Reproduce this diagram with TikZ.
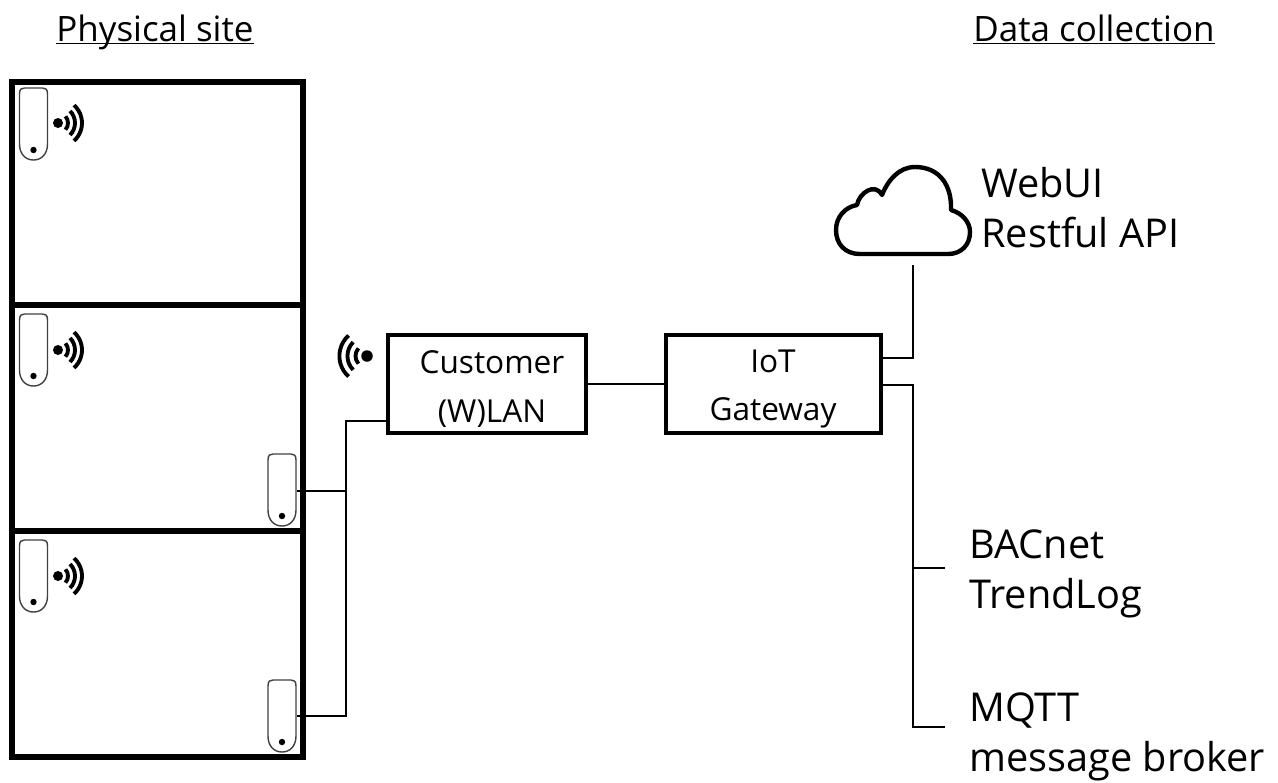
\documentclass[tikz,border=0pt]{standalone}
\usepackage{fontspec}
\setmainfont{Open Sans}
\usetikzlibrary{arrows.meta}
\tikzset{
    pics/sensor/.style={code={
        \node[minimum width=30*0.02cm,minimum height=72*0.02cm,inner sep=0pt] (-body) at (0,0) {};
        \draw[line width=0.8pt,draw=black!75] (-14,-30) .. controls (-14,-35) and (-12,-36) .. (-9,-36) -- (9,-36)
            .. controls (12,-36) and (14,-35) .. (14,-30) -- (14,20)
            .. controls (14,30) and (8,36) .. (0,36)
            .. controls (-8,36) and (-14,30) .. (-14,20) -- cycle;
        \fill (0,26) circle (3.2);
    }},
    pics/waves/.style={code={
        \fill (0,0) circle (5);
        \foreach \r/\a in {10/42,17/45,24/48}
            \draw[line width=2.2pt] (\a:\r) arc[start angle=\a,end angle=-\a,radius=\r];
    }}
}
\begin{document}
\begin{tikzpicture}[x=0.02cm,y=-0.02cm]
\useasboundingbox (0,0) rectangle (1278,782);
\begin{scope}[every node/.style={draw,line width=3pt,minimum width=291*0.02cm,inner sep=0pt}]
    \node[minimum height=223*0.02cm] (room1) at (157.5,193.5) {};
    \node[minimum height=226*0.02cm] (room2) at (157.5,418) {};
    \node[minimum height=226*0.02cm] (room3) at (157.5,644) {};
\end{scope}
\pic (s1) at (33.5,124) {sensor};
\pic (s2) at (33.5,350) {sensor};
\pic (s3) at (33.5,576) {sensor};
\pic (s4) at (282,490) {sensor};
\pic (s5) at (282,716) {sensor};
\pic (w1) at (58,123) {waves};
\pic (w2) at (58,350) {waves};
\pic (w3) at (58,576) {waves};
\pic[xscale=-1.15,yscale=1.15] (w4) at (367,356) {waves};
\begin{scope}[every node/.style={draw,line width=2pt,inner sep=0pt}]
    \node[minimum width=198*0.02cm,minimum height=98*0.02cm] (wlan) at (487,384) {};
    \node[minimum width=215*0.02cm,minimum height=98*0.02cm] (gateway) at (773.5,384) {};
\end{scope}
\begin{scope}[every node/.style={align=center,inner sep=0pt,font=\fontsize{18}{27.5}\selectfont}]
    \node (wlantext) at (492,389) {Customer\\(W)LAN};
    \node (gatewaytext) at (773,389) {IoT\\Gateway};
\end{scope}
\begin{scope}[every node/.style={align=left,anchor=west,inner sep=0pt,font=\fontsize{22.6}{28.4}\selectfont}]
    \node (api) at (981,208) {WebUI\\Restful API};
    \node (bacnet) at (969,574) {BACnet\\TrendLog};
    \node (mqtt) at (969,737) {MQTT\\message broker};
\end{scope}
\node[anchor=base,font=\fontsize{19.9}{24}\selectfont,inner sep=0pt] (site) at (155,41) {\underline{\smash{Physical site}}};
\node[anchor=base,font=\fontsize{19.9}{24}\selectfont,inner sep=0pt] (collect) at (1094,41) {\underline{\smash{Data collection}}};
\draw[line width=2.5pt,line join=round] (860,254) .. controls (845,254) and (836,244) .. (836,230)
    .. controls (836,217) and (845,207) .. (857,205)
    .. controls (859,193) and (875,182) .. (882,195)
    .. controls (888,180) and (899,167) .. (915,167)
    .. controls (940,167) and (952,186) .. (951,210)
    .. controls (962,213) and (970,222) .. (970,232)
    .. controls (970,245) and (961,254) .. (948,254) -- cycle;
\coordinate (cloud) at (913,265);
\coordinate (j1) at (346,491);
\coordinate (j2) at (346,421);
\coordinate (j3) at (346,716);
\coordinate (k1) at (913,358);
\coordinate (k2) at (913,385);
\coordinate (k3) at (913,568);
\coordinate (k4) at (913,727);
\coordinate (b1) at (945,568);
\coordinate (b2) at (945,727);
\begin{scope}[every path/.style={line width=1.6pt}]
    \draw (wlan.west |- j2) -- (j2) -- (j3) -- (s5-body.east |- j3);
    \draw (s4-body.east |- j1) -- (j1);
    \draw[line width=1.2pt] (wlan) -- (gateway);
    \draw (gateway.east |- k1) -- (k1) -- (cloud);
    \draw (gateway.east |- k2) -- (k2) -- (k4) -- (b2);
    \draw (k3) -- (b1);
\end{scope}
\end{tikzpicture}
\end{document}
